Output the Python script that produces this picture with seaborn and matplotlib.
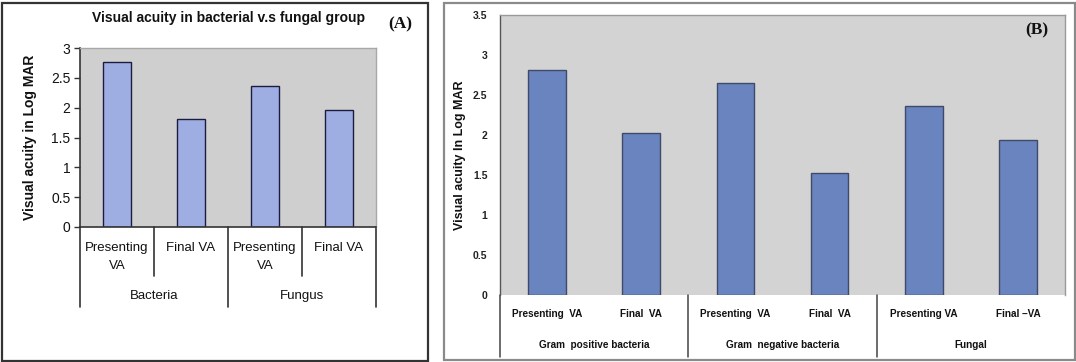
import matplotlib
matplotlib.use("Agg")
import matplotlib.pyplot as plt
import matplotlib.transforms as mtransforms
from matplotlib.patches import Rectangle
from matplotlib import font_manager
import seaborn as sns
import pandas as pd

# ---- data ----
a_groups = ["Bacteria", "Fungus"]
a_labels = ["Presenting\nVA", "Final VA", "Presenting\nVA", "Final VA"]
a_values = [2.76, 1.81, 2.37, 1.96]

b_groups = ["Gram  positive bacteria", "Gram  negative bacteria", "Fungal"]
b_labels = ["Presenting  VA", "Final  VA", "Presenting  VA", "Final  VA", "Presenting VA", "Final \u2013VA"]
b_values = [2.81, 2.03, 2.65, 1.53, 2.36, 1.94]

a_yticks = [0, 0.5, 1, 1.5, 2, 2.5, 3]
b_yticks = [0, 0.5, 1, 1.5, 2, 2.5, 3, 3.5]

sns.set_theme(style="white")
names = {f.name for f in font_manager.fontManager.ttflist}
NARROW = "Liberation Sans Narrow" if "Liberation Sans Narrow" in names else "Liberation Sans"
plt.rcParams["font.family"] = ["Liberation Sans", "DejaVu Sans"]

W, H = 1076, 362
fig = plt.figure(figsize=(W / 100, H / 100), dpi=100)
fig.patch.set_facecolor("white")


def fr(x0, y0, x1, y1):
    # pixel box (top-left origin) -> figure fraction [l, b, w, h]
    return [x0 / W, 1 - y1 / H, (x1 - x0) / W, (y1 - y0) / H]


# panel borders
fig.patches.append(Rectangle((1.5 / W, 1.5 / H), (428 - 1.5) / W, (359 - 1.5) / H,
                             transform=fig.transFigure, fill=False, edgecolor="#333333", lw=1.6))
fig.patches.append(Rectangle((444 / W, 2 / H), (1074.5 - 444) / W, (359.5 - 2) / H,
                             transform=fig.transFigure, fill=False, edgecolor="#8a8a8a", lw=1.6))

# ================= Panel A =================
axA = fig.add_axes(fr(80, 48, 376, 227))
dfA = pd.DataFrame({"key": [f"{i}" for i in range(len(a_values))], "val": a_values})
sns.barplot(data=dfA, x="key", y="val", ax=axA, color="#9eaee2", width=0.39,
            edgecolor="#1c1c40", linewidth=1.0, saturation=1)
axA.set_facecolor("#cfcfcf")
axA.set_xlim(-0.5, len(a_values) - 0.5)
axA.set_ylim(0, 3)
axA.set_yticks(a_yticks)
axA.set_yticklabels([f"{t:g}" for t in a_yticks], fontsize=10, color="#111111")
axA.set_xticks(range(len(a_labels)))
axA.set_xticklabels(a_labels, fontsize=9.5, color="#111111", linespacing=1.6)
axA.tick_params(axis="x", length=0, pad=11)
axA.tick_params(axis="y", length=4, width=1, color="#333333", pad=3, left=True)
axA.set_xlabel("")
axA.set_ylabel("Visual acuity in Log MAR", fontsize=10, fontweight="bold", labelpad=10, color="#111111")
for s in ["top", "right"]:
    axA.spines[s].set_color("#a8a8a8")
    axA.spines[s].set_linewidth(1.0)
for s in ["left", "bottom"]:
    axA.spines[s].set_color("#333333")
    axA.spines[s].set_linewidth(1.2)
trA = mtransforms.blended_transform_factory(axA.transData, axA.transAxes)
for i in range(len(a_labels) + 1):
    xb = i - 0.5
    bottom = -0.447 if i % 2 == 0 else -0.274
    axA.plot([xb, xb], [0, bottom], transform=trA, color="#333333", lw=1.2, clip_on=False)
for g, name in enumerate(a_groups):
    axA.text(2 * g + 0.5, -0.385, name, transform=trA, ha="center", va="center",
             fontsize=9.5, color="#111111")
fig.text(228 / W, 1 - 18 / H, "Visual acuity in bacterial v.s fungal group", ha="center", va="center",
         fontsize=10, fontweight="bold", family=[NARROW, "DejaVu Sans"], color="#111111")
fig.text(400 / W, 1 - 24 / H, "(A)", ha="center", va="center", fontsize=12.5, fontweight="bold",
         family=["Liberation Serif", "DejaVu Serif"], color="#111111")

# ================= Panel B =================
axB = fig.add_axes(fr(500, 15, 1065, 295))
dfB = pd.DataFrame({"key": [f"{i}" for i in range(len(b_values))], "val": b_values})
sns.barplot(data=dfB, x="key", y="val", ax=axB, color="#6a84c0", width=0.4,
            edgecolor="#3e4a68", linewidth=1.0, saturation=1)
axB.set_facecolor("#d3d3d3")
axB.set_xlim(-0.5, len(b_values) - 0.5)
axB.set_ylim(0, 3.5)
axB.set_yticks(b_yticks)
axB.set_yticklabels([f"{t:g}" for t in b_yticks], fontsize=7.5, fontweight="bold",
                    family=[NARROW, "DejaVu Sans"], color="#222222")
axB.set_xticks(range(len(b_labels)))
axB.set_xticklabels(b_labels, fontsize=7.2, fontweight="bold", family=[NARROW, "DejaVu Sans"],
                    color="#111111")
axB.tick_params(axis="x", length=0, pad=10)
axB.tick_params(axis="y", length=0, pad=9)
axB.set_xlabel("")
axB.set_ylabel("Visual acuity In Log MAR", fontsize=9, fontweight="bold", labelpad=5, color="#111111")
for s in ["top", "right"]:
    axB.spines[s].set_color("#9a9a9a")
    axB.spines[s].set_linewidth(1.0)
axB.spines["bottom"].set_visible(False)
axB.spines["left"].set_color("#555555")
axB.spines["left"].set_linewidth(1.0)
trB = mtransforms.blended_transform_factory(axB.transData, axB.transAxes)
for g in range(len(b_groups)):
    xb = 2 * g - 0.5
    axB.plot([xb, xb], [0, -0.221], transform=trB, color="#444444", lw=1.1, clip_on=False)
for g, name in enumerate(b_groups):
    axB.text(2 * g + 0.5, -0.179, name, transform=trB, ha="center", va="center",
             fontsize=7.2, fontweight="bold", family=[NARROW, "DejaVu Sans"], color="#111111")
fig.text(1037 / W, 1 - 30 / H, "(B)", ha="center", va="center", fontsize=12.5, fontweight="bold",
         family=["Liberation Serif", "DejaVu Serif"], color="#111111")

fig.savefig("out.png", dpi=100, facecolor="white")
